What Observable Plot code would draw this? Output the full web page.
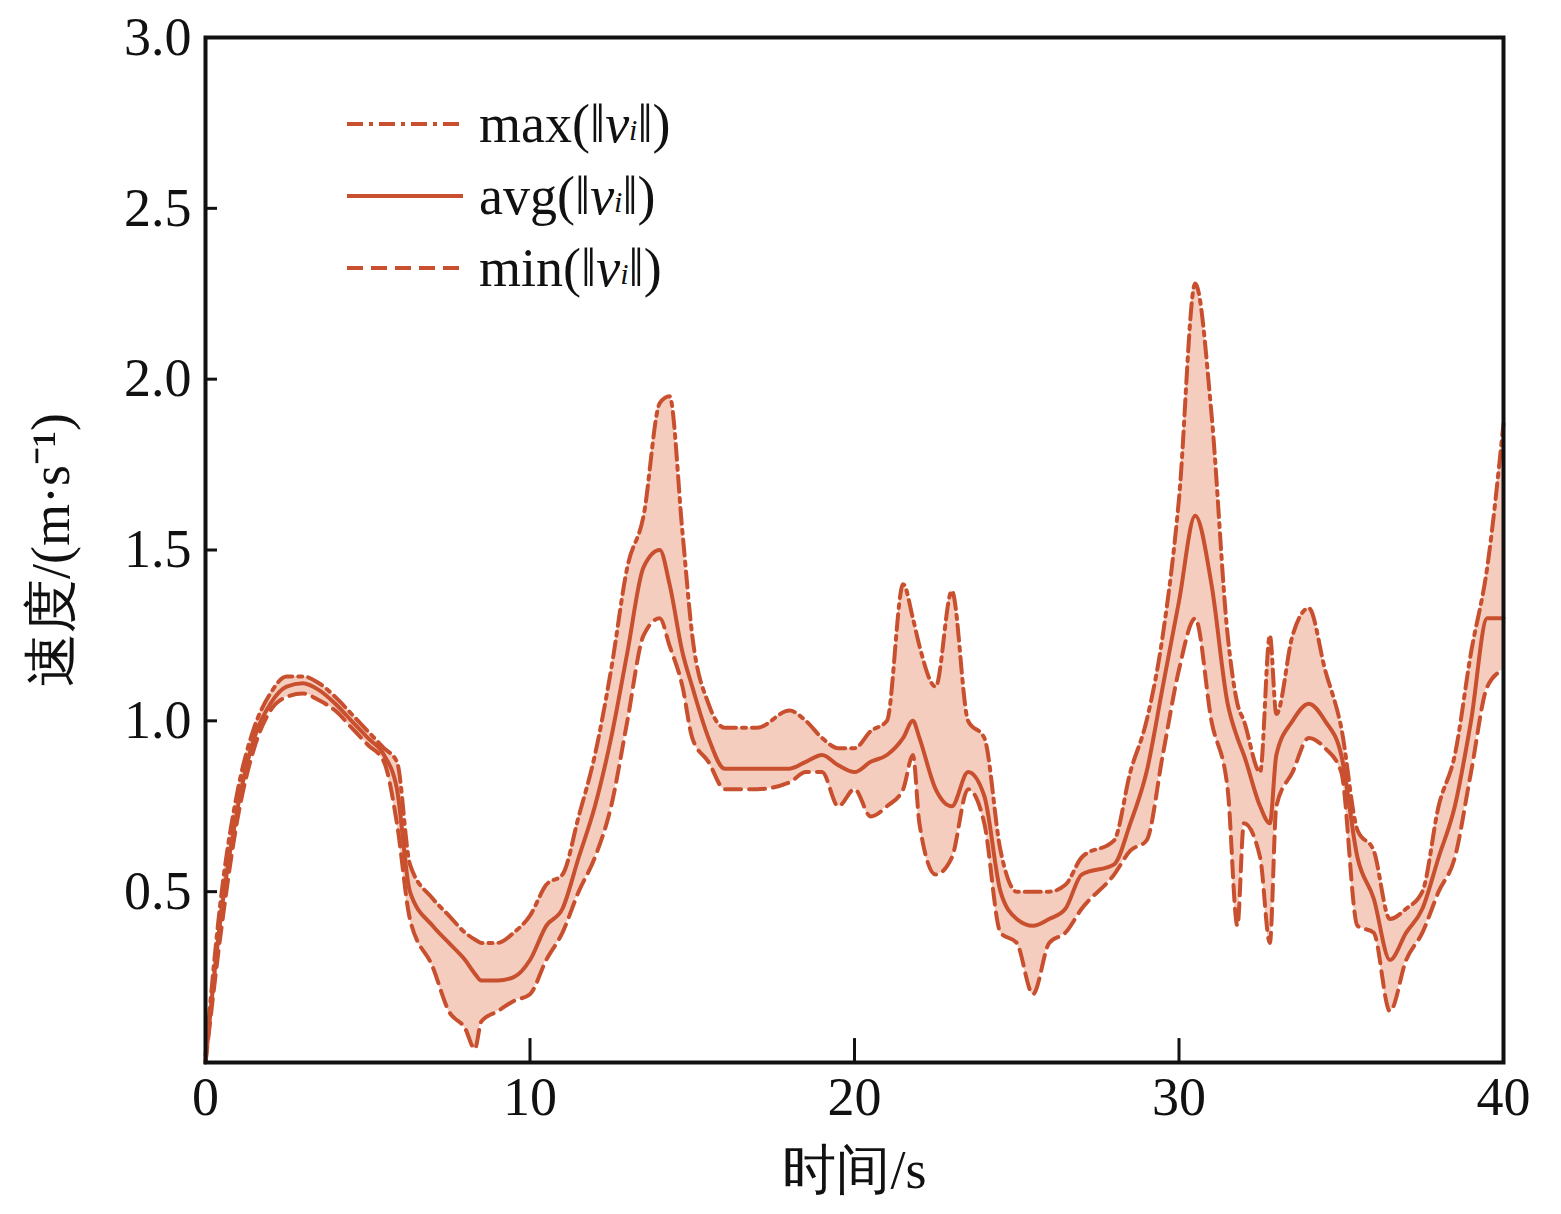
<!DOCTYPE html>
<html><head><meta charset="utf-8">
<script src="https://cdn.jsdelivr.net/npm/d3@7"></script>
<script src="https://cdn.jsdelivr.net/npm/@observablehq/plot@0.6"></script>
<style>body{margin:0;background:#fff;font-family:"Liberation Serif",serif}#wrap{position:relative;width:1561px;height:1214px}
#leg{position:absolute;left:345px;top:88px;font-size:54px;line-height:72px;color:#111}
#leg div{display:flex;align-items:center;height:72px}#leg svg{margin-right:14px}</style></head>
<body><div id="wrap"><div id="chart"></div><div id="leg"></div></div>
<script>
const times=[0,0.5,1,1.5,2,2.5,3,3.5,4,4.5,5,5.5,5.9,6.3,7,7.5,8,8.3,8.5,9,9.5,10,10.5,11,11.5,12,12.5,13,13.5,14,14.3,14.7,15,15.5,16,17,18,18.5,19,19.5,20,20.5,21,21.5,21.8,22,22.5,23,23.5,24,24.5,25,25.5,26,26.5,27,28,28.5,29,29.5,30,30.5,31,31.5,31.8,32,32.5,32.8,33,33.5,34,34.5,35,35.5,36,36.5,37,37.5,38,38.5,39,39.5,40];
const avgV=[0.0,0.45,0.75,0.95,1.05,1.10,1.11,1.09,1.05,1.0,0.95,0.9,0.8,0.5,0.40,0.35,0.30,0.26,0.24,0.24,0.25,0.3,0.4,0.45,0.6,0.75,0.95,1.2,1.45,1.5,1.4,1.2,1.1,0.95,0.86,0.86,0.86,0.88,0.9,0.87,0.85,0.88,0.9,0.95,1.0,0.95,0.8,0.75,0.85,0.78,0.5,0.42,0.4,0.42,0.45,0.55,0.58,0.7,0.85,1.1,1.35,1.6,1.4,1.05,0.95,0.9,0.75,0.7,0.9,1.0,1.05,1.0,0.9,0.6,0.48,0.3,0.38,0.45,0.6,0.75,1.0,1.3,1.3];
const maxV=[0.02,0.5,0.8,0.98,1.08,1.13,1.13,1.11,1.07,1.02,0.97,0.92,0.88,0.58,0.48,0.43,0.38,0.36,0.35,0.35,0.38,0.43,0.52,0.55,0.72,0.9,1.15,1.45,1.6,1.93,1.95,1.55,1.25,1.05,0.98,0.98,1.03,1.0,0.95,0.92,0.92,0.97,1.0,1.4,1.3,1.22,1.1,1.38,1.0,0.95,0.62,0.5,0.5,0.5,0.52,0.6,0.65,0.85,1.0,1.25,1.65,2.28,1.9,1.25,1.05,1.0,0.85,1.25,1.02,1.25,1.33,1.15,0.98,0.68,0.62,0.42,0.45,0.5,0.75,0.9,1.2,1.45,1.87];
const minV=[0.0,0.4,0.72,0.92,1.03,1.07,1.08,1.06,1.03,0.98,0.93,0.88,0.7,0.42,0.28,0.15,0.1,0.04,0.12,0.15,0.18,0.2,0.3,0.38,0.5,0.6,0.75,1.0,1.25,1.3,1.22,1.1,0.95,0.88,0.8,0.8,0.82,0.85,0.85,0.75,0.8,0.72,0.75,0.8,0.9,0.7,0.55,0.6,0.8,0.7,0.38,0.35,0.2,0.35,0.38,0.45,0.55,0.62,0.65,0.9,1.15,1.3,1.0,0.8,0.4,0.7,0.6,0.35,0.75,0.85,0.95,0.92,0.85,0.4,0.38,0.15,0.3,0.38,0.5,0.6,0.85,1.1,1.15];
const data=times.map((t,i)=>({t,avg:avgV[i],max:maxV[i],min:minV[i]}));
const xTicks=[0,10,20,30,40], yTicks=[0.5,1,1.5,2,2.5,3];
const C="#c8502f";
const plot=Plot.plot({width:1561,height:1214,marginLeft:205,marginRight:58,marginTop:37,marginBottom:152,
 style:{fontFamily:"Liberation Serif",fontSize:"54px",color:"#111",background:"#fff"},
 x:{domain:[0,40]},y:{domain:[0,3]},
 marks:[
  Plot.areaY(data,{x:"t",y1:"min",y2:"max",fill:"#f5cdbf",curve:"monotone-x"}),
  Plot.lineY(data,{x:"t",y:"max",stroke:C,strokeWidth:4,strokeDasharray:"16,6,4,6",curve:"monotone-x"}),
  Plot.lineY(data,{x:"t",y:"min",stroke:C,strokeWidth:4,strokeDasharray:"16,8",curve:"monotone-x"}),
  Plot.lineY(data,{x:"t",y:"avg",stroke:C,strokeWidth:4,curve:"monotone-x"}),
  Plot.ruleX(xTicks,{x:d=>d,y1:0,y2:0.07,stroke:"#111",strokeWidth:3}),
  Plot.ruleY(yTicks,{y:d=>d,x1:0,x2:0.37,stroke:"#111",strokeWidth:3}),
  Plot.axisX(xTicks,{tickSize:0,tickPadding:14,fontSize:54,label:"时间/s",labelAnchor:"center",labelArrow:"none",labelOffset:125}),
  Plot.axisY(yTicks,{tickSize:0,tickPadding:14,fontSize:54,label:"速度/(m·s⁻¹)",labelAnchor:"center",labelArrow:"none",labelOffset:175,tickFormat:d3.format(".1f")}),
  Plot.frame({stroke:"#111",strokeWidth:4})
 ]});
document.getElementById("chart").append(plot);
const leg=[["max","16,6,4,6"],["avg",null],["min","16,8"]];
document.getElementById("leg").innerHTML=leg.map(([n,d])=>`<div><svg width="120" height="10"><line x1="2" x2="118" y1="5" y2="5" stroke="${C}" stroke-width="4" ${d?`stroke-dasharray="${d}"`:""}/></svg>${n}(‖<i>v</i><sub style="font-size:30px;position:relative;top:6px"><i>i</i></sub>‖)</div>`).join("");
</script></body></html>
